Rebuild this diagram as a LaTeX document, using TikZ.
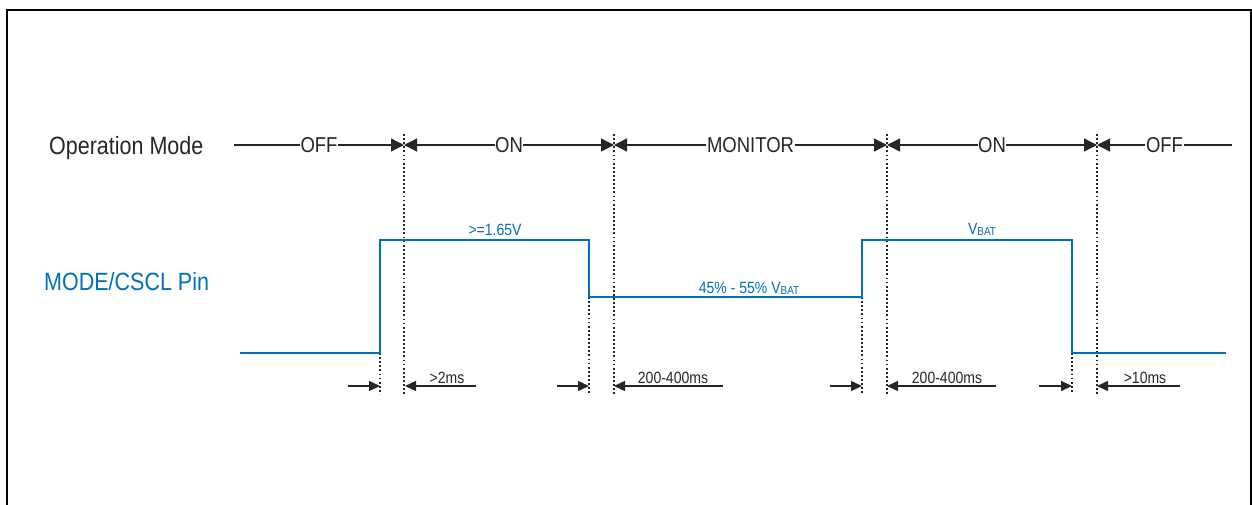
\documentclass[tikz,border=0pt]{standalone}
\usepackage{fontspec}
\setmainfont[FakeStretch=0.86]{Liberation Sans}
\usetikzlibrary{arrows.meta}
\definecolor{sigblue}{RGB}{0,112,184}
\tikzset{
  x=1pt, y=-1pt,
  frameline/.style={line width=2pt, black},
  modeline/.style={line width=1.3pt, black!85},
  bigtip/.tip={Triangle[length=13pt,width=13pt]},
  smalltip/.tip={Triangle[length=11pt,width=10pt]},
  modelabel/.style={fill=white, inner sep=0.6pt, font=\fontsize{21.5}{21.5}\selectfont, text=black!85},
  biglabel/.style={inner sep=0pt, anchor=base west, font=\fontsize{25}{25}\selectfont, text=black!85},
  siglabel/.style={inner sep=0pt, anchor=base, text=sigblue, font=\fontsize{16.3}{16.3}\selectfont},
  dimlabel/.style={inner sep=0pt, anchor=base, text=black!85, font=\fontsize{16.3}{16.3}\selectfont},
  signal/.style={line width=2pt, sigblue},
  dotline/.style={line width=2pt, black!85, dash pattern=on 1.8pt off 2.3pt},
  dimarrow/.style={line width=1.4pt, black!85, -smalltip},
}
\newcommand{\vbat}{V\raisebox{-1pt}{\fontsize{11.5}{11.5}\selectfont BAT}}
\begin{document}
\begin{tikzpicture}
\useasboundingbox (0,0) rectangle (1252,504);
% frame
\draw[frameline] (7,506) -- (7,10) -- (1251,10) -- (1251,506);

% row titles
\node[biglabel] (opmode) at (49,154) {Operation Mode};
\node[biglabel, text=sigblue] (pin) at (44,290) {MODE/CSCL Pin};

% mode boundaries
\coordinate (m0) at (234,145);
\coordinate (d1) at (404,145);
\coordinate (d2) at (614,145);
\coordinate (d3) at (887,145);
\coordinate (d4) at (1097,145);
\coordinate (m5) at (1232,145);

% dotted boundary lines
\foreach \n/\xx in {d1/404,d2/614,d3/887,d4/1097}{
  \coordinate (\n top) at (\xx,134);
  \coordinate (\n bot) at (\xx,394);
  \draw[dotline] (\n top) -- (\n bot);
}

% mode line
\draw[modeline, -bigtip] (m0) -- node[modelabel] (offa) {OFF} (d1);
\draw[modeline, bigtip-bigtip] (d1) -- node[modelabel] (ona) {ON} (d2);
\draw[modeline, bigtip-bigtip] (d2) -- node[modelabel] (mon) {MONITOR} (d3);
\draw[modeline, bigtip-bigtip] (d3) -- node[modelabel] (onb) {ON} (d4);
\draw[modeline, bigtip-] (d4) -- node[modelabel] (offb) {OFF} (m5);

% signal
\coordinate (s0) at (240,353);
\coordinate (s1) at (380,353);
\coordinate (s2) at (380,240);
\coordinate (s3) at (589,240);
\coordinate (s4) at (589,297);
\coordinate (s5) at (862,297);
\coordinate (s6) at (862,240);
\coordinate (s7) at (1072,240);
\coordinate (s8) at (1072,353);
\coordinate (s9) at (1226,353);

% transition dotted lines
\foreach \n/\xx in {s1/380,s4/589,s5/862,s8/1072}{
  \coordinate (\n bot) at (\xx,394);
  \draw[dotline] (\n) -- (\n bot);
}

\draw[signal] (s0) -- (s1) -- (s2) -- (s3) -- (s4) -- (s5) -- (s6) -- (s7) -- (s8) -- (s9);

\node[siglabel] (lv1) at (495,235) {>=1.65V};
\node[siglabel] (lv2) at (749,293) {45\% - 55\% \vbat};
\node[siglabel] (lv3) at (982,234) {\vbat};

% timing arrows
\foreach \a/\b/\c/\d [count=\i] in {348/380/476/405, 557/589/723/614, 830/862/996/887, 1039/1072/1180/1097}{
  \coordinate (ta\i) at (\a,386);
  \coordinate (tb\i) at (\b,386);
  \coordinate (tc\i) at (\c,386);
  \coordinate (td\i) at (\d,386);
  \draw[dimarrow] (ta\i) -- (tb\i);
  \draw[dimarrow] (tc\i) -- (td\i);
}
\node[dimlabel] (t1) at (447,383) {>2ms};
\node[dimlabel] (t2) at (673,383) {200-400ms};
\node[dimlabel] (t3) at (947,383) {200-400ms};
\node[dimlabel] (t4) at (1145,383) {>10ms};
\end{tikzpicture}
\end{document}
